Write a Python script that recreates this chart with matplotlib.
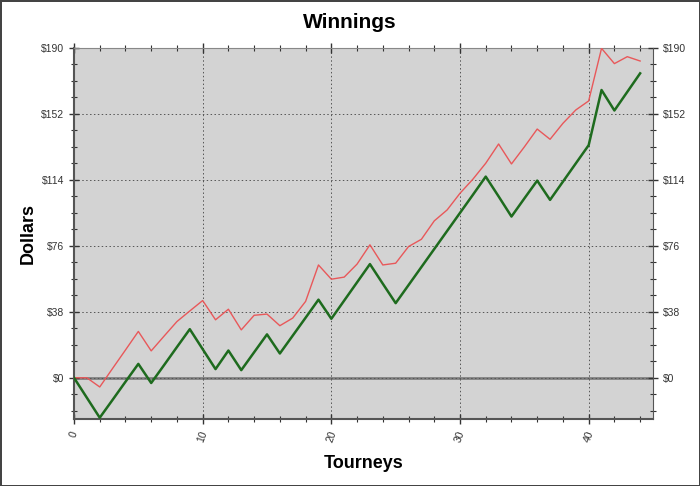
import matplotlib.pyplot as plt
from matplotlib.ticker import MultipleLocator, FuncFormatter

plt.rcParams['font.family'] = ['Liberation Sans', 'DejaVu Sans']

# 数据
tourneys = list(range(45))
winnings = [0, 0, -5.3, 5.4, 16, 26.7, 15.5, 24, 32.4, 38.5,
            44.5, 33.4, 39.5, 27.6, 36, 36.7, 30, 34.4, 44, 65,
            56.8, 58, 65.5, 76.6, 65, 66, 75.6, 79.8, 90.4, 96.7,
            106.3, 114.4, 123.6, 134.7, 123.2, 133, 143.3, 137.4, 146.6, 154.3,
            159.5, 189.8, 181, 185, 182.5]
net = [0, -11.5, -23, -12.7, -2.3, 8, -3, 7.3, 17.7, 28,
       16.5, 5, 15.7, 4.4, 14.7, 25, 14, 24.3, 34.6, 45,
       34, 44.5, 55, 65.5, 54.2, 43, 53.4, 63.8, 74.2, 84.6,
       95, 105.4, 115.9, 104.5, 92.9, 103.3, 113.6, 102.5, 113, 123.5,
       134, 165.8, 154, 164.7, 175.4]
y_ticks = [0, 38, 76, 114, 152, 190]

fig = plt.figure(figsize=(7, 4.86), dpi=100, edgecolor='#444444', linewidth=2)
ax = fig.add_axes([74 / 700, 1 - 419 / 486, 579 / 700, 371 / 486])
ax.set_facecolor('#d3d3d3')

ax.axhline(0, color='#808080', linewidth=2, zorder=1)
ax.plot(tourneys, winnings, color='#e8585a', linewidth=1, zorder=3)
ax.plot(tourneys, net, color='#1e6b1e', linewidth=1.8, zorder=3)

ax.set_xlim(0, 45)
ax.set_ylim(-23.75, 190)
ax.set_yticks(y_ticks)
ax.yaxis.set_minor_locator(MultipleLocator(9.5))
ax.xaxis.set_major_locator(MultipleLocator(10))
ax.xaxis.set_minor_locator(MultipleLocator(2))
fmt = FuncFormatter(lambda v, p: '$%d' % v)
ax.yaxis.set_major_formatter(fmt)

ax.grid(True, which='major', color='#555555', linestyle=(0, (1.5, 2.5)), linewidth=0.7)
ax.tick_params(which='major', direction='inout', length=7, width=1, color='#333333',
               labelsize=7.5, labelcolor='#333333', top=True)
ax.tick_params(which='minor', direction='inout', length=5, width=0.8, color='#333333', top=True)
ax.tick_params(axis='x', which='major', pad=4)
plt.setp(ax.get_xticklabels(), rotation=70, ha='center', va='top')
for s in ['left', 'bottom']:
    ax.spines[s].set_color('#555555')
    ax.spines[s].set_linewidth(1.5)
ax.spines['right'].set_visible(False)
ax.spines['top'].set_color('#888888')

# 右侧y轴
ax2 = ax.twinx()
ax2.set_ylim(ax.get_ylim())
ax2.set_yticks(y_ticks)
ax2.yaxis.set_minor_locator(MultipleLocator(9.5))
ax2.yaxis.set_major_formatter(fmt)
ax2.tick_params(which='major', direction='inout', length=7, width=1, color='#333333',
                labelsize=7.5, labelcolor='#333333')
ax2.tick_params(which='minor', direction='inout', length=5, width=0.8, color='#333333')
ax2.spines['right'].set_color('#555555')
for s in ['left', 'bottom', 'top']:
    ax2.spines[s].set_visible(False)

fig.text(0.5, 1 - 22 / 486, 'Winnings', ha='center', va='center', fontsize=15, fontweight='bold')
ax.set_xlabel('Tourneys', fontsize=13, fontweight='bold', labelpad=8)
ax.set_ylabel('Dollars', fontsize=13, fontweight='bold', labelpad=3)

fig.savefig('out.png', dpi=100, edgecolor=fig.get_edgecolor())
